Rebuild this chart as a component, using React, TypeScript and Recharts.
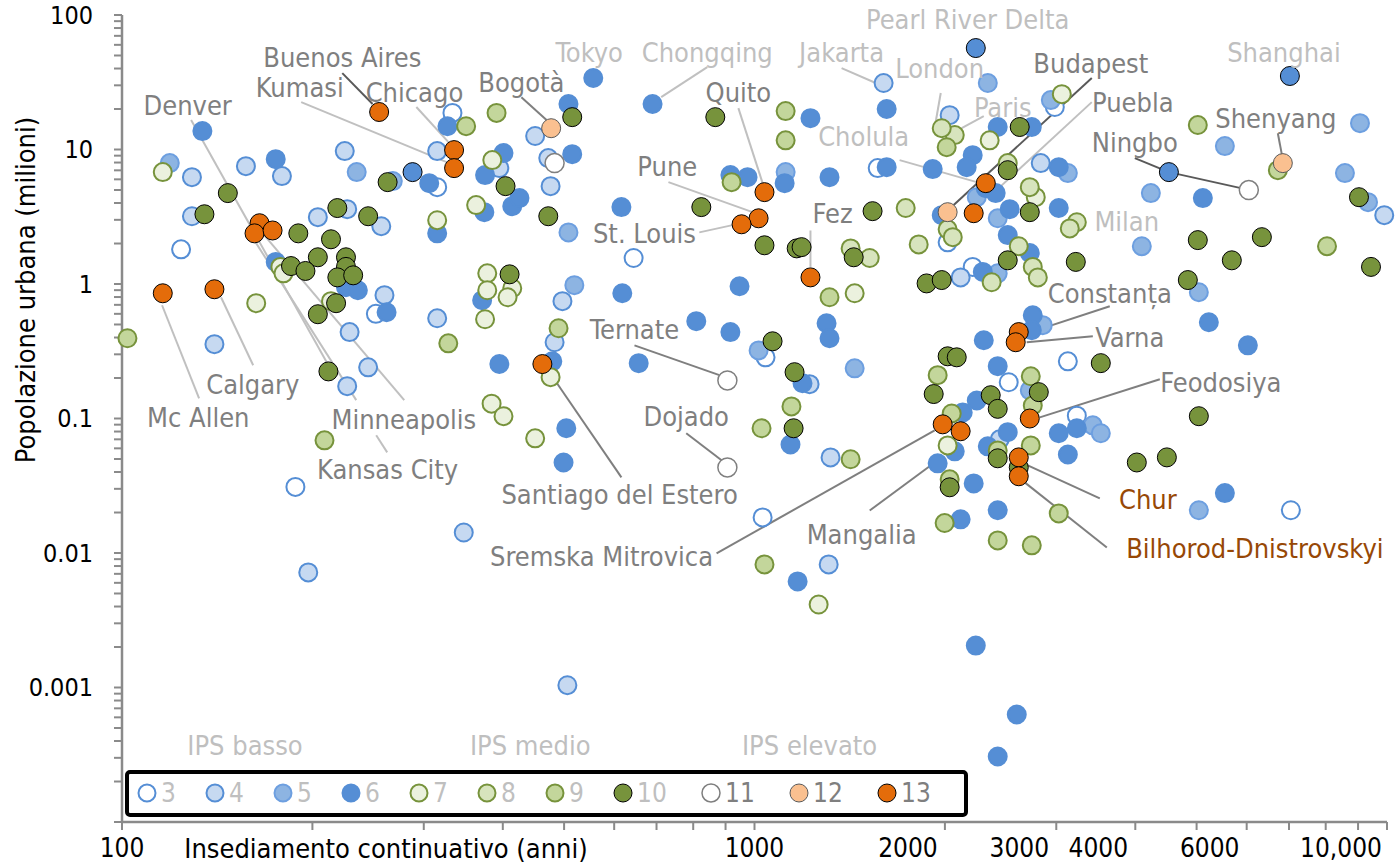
import React from "react";
import { ScatterChart, Scatter, XAxis, YAxis, ReferenceLine, Legend, Label } from "recharts";

document.body.style.margin = "0";

// [years of continuous settlement, urban population in millions], one list per class
const ips3 = [[124,1.81],[333,18.7],[315,5.25],[644,1.56],[252,0.6],[188,0.031],[1041,0.285],[1030,0.0184],[1566,7.27],[2020,2.04],[2984,20.7],[2213,1.34],[3129,0.266],[2523,0.186],[3233,0.105],[7047,0.0208]];
const ips4 = [[129,6.23],[157,7.52],[179,6.34],[225,9.73],[129,3.19],[204,3.14],[227,3.6],[257,2.69],[260,0.826],[140,0.357],[229,0.439],[315,0.556],[245,0.24],[227,0.174],[347,0.0142],[197,0.00717],[315,9.73],[395,7.27],[472,8.63],[450,12.6],[476,5.34],[497,0.745],[483,0.369],[506,0.00104],[1222,0.18],[1319,0.0514],[1310,0.00823],[1600,31.2],[2035,18],[2835,7.92],[2118,1.12],[2442,0.07],[9900,3.25]];
const ips5 = [[119,7.92],[235,6.79],[268,5.82],[508,2.42],[519,0.98],[1015,0.321],[1120,6.79],[1440,0.236],[2338,31.2],[2941,23.3],[3129,6.68],[2246,4.42],[2424,3.08],[2424,1.2],[2856,0.494],[2724,0.162],[3427,0.089],[3528,0.0777],[4233,4.74],[5542,10.6],[9063,15.7],[8580,6.68],[9333,4.06],[4096,1.91],[5041,0.869],[5041,0.0208]];
const ips6 = [[134,13.7],[175,8.48],[175,1.46],[226,0.947],[236,0.899],[262,0.617],[556,34],[690,21.8],[327,14.9],[508,21.8],[401,9.4],[515,9.23],[306,5.62],[375,6.45],[414,3.79],[425,4.35],[374,3.42],[616,3.73],[315,2.38],[618,0.853],[947,0.963],[1116,5.62],[916,6.45],[975,6.23],[1226,17.1],[1618,20],[1314,6.23],[1618,7.39],[1913,7.15],[2213,9.08],[2165,7.39],[3027,7.39],[2321,5.16],[2406,4.74],[2532,3.6],[3027,3.67],[1977,3.25],[2514,2.31],[2724,1.7],[2296,1.23],[5115,4.35],[2424,14.7],[2744,14.7],[395,0.254],[479,0.266],[809,0.529],[916,0.439],[656,0.258],[504,0.0846],[499,0.0471],[1191,0.183],[1140,0.0641],[1300,0.511],[1314,0.395],[1170,0.00615],[2238,0.00205],[2598,0.00063],[2424,0.000307],[2754,0.586],[2744,0.454],[2304,0.382],[5228,0.52],[6026,0.35],[2424,0.245],[2246,0.136],[2134,0.111],[3027,0.0777],[3233,0.0846],[2514,0.0791],[2338,0.0621],[2073,0.057],[1948,0.0464],[3129,0.054],[2221,0.0329],[2424,0.0208],[2118,0.0178],[5542,0.0279],[371,0.757]];
const ips6Marked = [[288,6.79],[2238,56.8],[7022,35.2],[4520,6.79]];
const ips7 = [[116,6.79],[178,1.34],[180,1.2],[163,0.72],[214,0.745],[385,8.34],[363,3.86],[315,2.98],[378,1.2],[378,0.899],[414,0.93],[407,0.797],[375,0.547],[384,0.129],[401,0.104],[450,0.0712],[476,0.203],[1440,0.853],[1263,0.00414],[2354,11.7],[2784,4.42],[3061,25.8],[2020,0.0631]];
const ips8 = [[2073,12.8],[1977,14.4],[2514,7.92],[2724,5.25],[1734,3.67],[2020,2.55],[2058,2.23],[3233,2.88],[3151,2.59],[1818,1.97],[1419,1.84],[1521,1.56],[2617,1.91],[2754,1.34],[2805,1.12],[2371,1.03]];
const ips9 = [[350,14.9],[391,18.7],[102,0.395],[328,0.362],[209,0.0688],[490,0.469],[1120,19.3],[1120,11.7],[920,5.72],[1144,0.123],[1026,0.0846],[1419,0.0498],[1037,0.00823],[1314,0.797],[2013,10.4],[5022,15.2],[6721,7.02],[8038,1.91],[1948,0.21],[2734,0.206],[2754,0.125],[2050,0.109],[2424,0.0579],[2734,0.0631],[2035,0.0353],[3027,0.0197],[1998,0.0167],[2424,0.0124],[2744,0.0114]];
const ips10 = [[147,4.74],[135,3.3],[219,3.67],[245,3.19],[190,2.38],[214,2.15],[204,1.58],[226,1.58],[185,1.36],[195,1.25],[226,1.34],[219,1.12],[232,1.16],[263,5.72],[218,0.72],[204,0.596],[212,0.224],[515,17.4],[404,5.34],[472,3.19],[410,1.18],[867,17.4],[824,3.73],[1037,1.94],[1166,1.84],[1068,0.375],[1157,0.221],[1153,0.0846],[2626,14.7],[2514,7.02],[2724,3.42],[2514,1.5],[3221,1.46],[1537,3.48],[1187,1.88],[1435,1.58],[1871,1.01],[1977,1.07],[9030,4.42],[5022,2.12],[6341,2.23],[5684,1.5],[9434,1.34],[4843,1.07],[3528,0.258],[2020,0.29],[2088,0.285],[1920,0.152],[2815,0.157],[2363,0.149],[2424,0.118],[5041,0.104],[2424,0.0506],[2617,0.0433],[2035,0.0308],[4022,0.0471],[4487,0.0514]];
const ips11 = [[483,7.92],[906,0.192],[906,0.0433],[6047,4.99]];
const ips12 = [[477,14.4],[2020,3.42],[6844,7.92]];
const ips13 = [[255,19],[335,9.9],[335,7.27],[165,2.83],[162,2.38],[173,2.5],[116,0.853],[140,0.914],[462,0.254],[1037,4.82],[1015,3.08],[954,2.78],[1226,1.12],[2321,5.62],[2221,3.36],[2617,0.439],[2588,0.369],[2724,0.1],[1984,0.0905],[2118,0.0804],[2617,0.0514],[2617,0.0372]];

const xLabelTicks = [100, 1000, 2000, 3000, 4000, 6000, 10000];
const xLabels = ["100", "1000", "2000", "3000", "4000", "6000", "10,000"];
const yLabelTicks = [100, 10, 1, 0.1, 0.01, 0.001];
const yLabels = ["100", "10", "1", "0.1", "0.01", "0.001"];

const cityLabels = [
  { name: "Pearl River Delta", x: 2173, y: 91.8, tone: "light" },
  { name: "Tokyo", x: 548, y: 52.2, tone: "light" },
  { name: "Chongqing", x: 842, y: 52.2, tone: "light" },
  { name: "Jakarta", x: 1373, y: 52.2, tone: "light" },
  { name: "London", x: 1962, y: 40.3, tone: "light" },
  { name: "Paris", x: 2469, y: 20.7, tone: "light" },
  { name: "Cholula", x: 1488, y: 12.4, tone: "light" },
  { name: "Shanghai", x: 6871, y: 53, tone: "light" },
  { name: "Milan", x: 3878, y: 2.93, tone: "light" },
  { name: "Budapest", x: 3402, y: 43.9, tone: "mid" },
  { name: "Puebla", x: 3964, y: 22.5, tone: "mid" },
  { name: "Ningbo", x: 3993, y: 11.2, tone: "mid" },
  { name: "Shenyang", x: 6673, y: 17.1, tone: "mid" },
  { name: "Fez", x: 1329, y: 3.36, tone: "mid" },
  { name: "Constanța", x: 3645, y: 0.853, tone: "mid" },
  { name: "Varna", x: 3921, y: 0.402, tone: "mid" },
  { name: "Feodosiya", x: 5461, y: 0.186, tone: "mid" },
  { name: "Chur", x: 4187, y: 0.0251, tone: "rust" },
  { name: "Bilhorod-Dnistrovskyi", x: 6181, y: 0.0108, tone: "rust" },
  { name: "Mangalia", x: 1477, y: 0.0138, tone: "mid" },
  { name: "Sremska Mitrovica", x: 573, y: 0.00943, tone: "mid" },
  { name: "Ternate", x: 646, y: 0.461, tone: "mid" },
  { name: "Dojado", x: 780, y: 0.104, tone: "mid" },
  { name: "Santiago del Estero", x: 612, y: 0.0273, tone: "mid" },
  { name: "Mc Allen", x: 132, y: 0.102, tone: "mid" },
  { name: "Calgary", x: 161, y: 0.18, tone: "mid" },
  { name: "Minneapolis", x: 279, y: 0.0986, tone: "mid" },
  { name: "Kansas City", x: 263, y: 0.0419, tone: "mid" },
  { name: "Denver", x: 127, y: 21.4, tone: "mid" },
  { name: "Buenos Aires", x: 223, y: 48.7, tone: "mid" },
  { name: "Kumasi", x: 191, y: 29.1, tone: "mid" },
  { name: "Chicago", x: 290, y: 26.7, tone: "mid" },
  { name: "Bogotà", x: 428, y: 31.7, tone: "mid" },
  { name: "Quito", x: 943, y: 26.7, tone: "mid" },
  { name: "Pune", x: 728, y: 7.52, tone: "mid" },
  { name: "St. Louis", x: 670, y: 2.38, tone: "mid" },
  { name: "IPS basso", x: 156.5, y: 0.00037, tone: "light" },
  { name: "IPS medio", x: 442, y: 0.00037, tone: "light" },
  { name: "IPS elevato", x: 1222, y: 0.00037, tone: "light" },
];

const leaderLines = [
  { x1: 223, y1: 37, x2: 249, y2: 21.8, tone: "dark" },
  { x1: 192, y1: 22.5, x2: 326, y2: 8.06, tone: "light" },
  { x1: 292, y1: 20.7, x2: 329, y2: 11.2, tone: "light" },
  { x1: 128.6, y1: 16.6, x2: 212, y2: 0.249, tone: "light" },
  { x1: 115.7, y1: 0.695, x2: 132.4, y2: 0.141, tone: "light" },
  { x1: 143.4, y1: 0.797, x2: 161.2, y2: 0.249, tone: "light" },
  { x1: 279.4, y1: 0.137, x2: 167.8, y2: 2.31, tone: "light" },
  { x1: 262.6, y1: 0.056, x2: 252.3, y2: 0.075, tone: "light" },
  { x1: 234.6, y1: 0.137, x2: 161.8, y2: 2.12, tone: "light" },
  { x1: 428, y1: 24.5, x2: 469, y2: 16.6, tone: "mid" },
  { x1: 842, y1: 41, x2: 712, y2: 24.5, tone: "light" },
  { x1: 1373, y1: 40.3, x2: 1555, y2: 31.2, tone: "light" },
  { x1: 1970, y1: 26.3, x2: 1934, y2: 16, tone: "light" },
  { x1: 2304, y1: 17.7, x2: 2126, y2: 14.4, tone: "light" },
  { x1: 1696, y1: 8.34, x2: 2246, y2: 5.72, tone: "light" },
  { x1: 3414, y1: 34, x2: 2065, y2: 3.86, tone: "dark" },
  { x1: 3414, y1: 22.5, x2: 2442, y2: 5.25, tone: "light" },
  { x1: 3993, y1: 8.63, x2: 4520, y2: 6.79, tone: "dark" },
  { x1: 4520, y1: 6.79, x2: 5875, y2: 5.16, tone: "dark" },
  { x1: 6721, y1: 13.2, x2: 6822, y2: 9.08, tone: "mid" },
  { x1: 1226, y1: 2.5, x2: 1226, y2: 1.34, tone: "light" },
  { x1: 943, y1: 20.3, x2: 1030, y2: 5.62, tone: "light" },
  { x1: 731, y1: 5.72, x2: 993, y2: 3.42, tone: "light" },
  { x1: 818, y1: 2.42, x2: 923, y2: 2.74, tone: "light" },
  { x1: 3645, y1: 0.684, x2: 2704, y2: 0.431, tone: "mid" },
  { x1: 3427, y1: 0.409, x2: 2694, y2: 0.369, tone: "mid" },
  { x1: 4374, y1: 0.196, x2: 2825, y2: 0.102, tone: "mid" },
  { x1: 3515, y1: 0.0255, x2: 2704, y2: 0.0448, tone: "mid" },
  { x1: 3606, y1: 0.011, x2: 2674, y2: 0.0335, tone: "mid" },
  { x1: 1521, y1: 0.0207, x2: 1927, y2: 0.0471, tone: "mid" },
  { x1: 871, y1: 0.00993, x2: 1927, y2: 0.0817, tone: "mid" },
  { x1: 646, y1: 0.35, x2: 880, y2: 0.21, tone: "mid" },
  { x1: 780, y1: 0.0777, x2: 887, y2: 0.0489, tone: "mid" },
  { x1: 616, y1: 0.0365, x2: 486, y2: 0.186, tone: "mid" },
];

const FONT = "'DejaVu Sans Condensed', 'DejaVu Sans', sans-serif";
const AXIS = "#8a8a8a";
const textTone: Record<string, string> = { light: "#bfbfbf", mid: "#7f7f7f", rust: "#974806" };
const lineTone: Record<string, string> = { light: "#c0c0c0", mid: "#7f7f7f", dark: "#595959" };

const BLUE = "#558ed5";
const GREEN = "#77933c";

const classes = [
  { key: "3", data: ips3, fill: "#ffffff", stroke: BLUE, sw: 2, legend: true },
  { key: "4", data: ips4, fill: "#c6d9f1", stroke: BLUE, sw: 2, legend: true },
  { key: "5", data: ips5, fill: "#8db4e2", stroke: "#6d9fe0", sw: 2, legend: true },
  { key: "6", data: ips6, fill: BLUE, stroke: BLUE, sw: 2, legend: true },
  { key: "6m", data: ips6Marked, fill: BLUE, stroke: "#000000", sw: 1, legend: false },
  { key: "7", data: ips7, fill: "#ebf1de", stroke: GREEN, sw: 2, legend: true },
  { key: "8", data: ips8, fill: "#d7e4bd", stroke: GREEN, sw: 2, legend: true },
  { key: "9", data: ips9, fill: "#c3d69b", stroke: GREEN, sw: 2, legend: true },
  { key: "10", data: ips10, fill: GREEN, stroke: "#000000", sw: 1, legend: true },
  { key: "11", data: ips11, fill: "#ffffff", stroke: "#7f7f7f", sw: 1.5, legend: true },
  { key: "12", data: ips12, fill: "#fac090", stroke: "#595959", sw: 1, legend: true },
  { key: "13", data: ips13, fill: "#e46c0a", stroke: "#000000", sw: 1, legend: true },
];

const xTicks: number[] = [];
for (let e = 2; e <= 3; e++) for (let k = 1; k <= 9; k++) xTicks.push(k * Math.pow(10, e));
xTicks.push(10000);
const yTicks: number[] = [];
for (let e = -4; e <= 1; e++) for (let k = 1; k <= 9; k++) yTicks.push(+(k * Math.pow(10, e)).toPrecision(6));
yTicks.push(100);

const toPts = (arr: number[][]) => arr.map(([x, y]) => ({ x, y }));

const dotShape = (fill: string, stroke: string, sw: number) => (props: any) => {
  if (props.cx == null || props.cy == null) return <g />;
  const r = sw >= 2 ? 9 : 9.5;
  return <circle cx={props.cx} cy={props.cy} r={r} fill={fill} stroke={stroke} strokeWidth={sw} />;
};

const textShape = (props: any) => {
  const d = props.payload || props;
  return (
    <text x={props.cx} y={props.cy} textAnchor="middle" dominantBaseline="central"
      fill={textTone[d.tone]} fontSize={27} fontFamily={FONT}>
      {d.name}
    </text>
  );
};

const renderXTick = (props: any) => {
  const v = props.payload.value;
  const i = xLabelTicks.findIndex((t) => Math.abs(t - v) < 1e-6);
  if (i < 0) return <g />;
  const shift = v > 1000 ? (v >= 10000 ? -46 : -37) : 0;
  return (
    <text x={props.x + shift} y={props.y + 16} textAnchor="middle" dominantBaseline="central"
      fill="#000" fontSize={26} fontFamily={FONT}>
      {xLabels[i]}
    </text>
  );
};

const renderYTick = (props: any) => {
  const v = props.payload.value;
  const i = yLabelTicks.findIndex((t) => Math.abs(Math.log10(t) - Math.log10(v)) < 1e-6);
  if (i < 0) return <g />;
  return (
    <text x={props.x} y={props.y} textAnchor="end" dominantBaseline="central"
      fill="#000" fontSize={25} fontFamily={FONT}>
      {yLabels[i]}
    </text>
  );
};

const LegendBox = () => {
  let cx = 27;
  const items = classes.filter((c) => c.legend).map((c) => {
    const item = { c, cx };
    cx += 48 + 20 * c.key.length;
    return item;
  });
  return (
    <svg width={855} height={57}>
      <rect x={7} y={7} width={839} height={43} rx={3} fill="#fff" stroke="#000" strokeWidth={4} />
      {items.map(({ c, cx }) => (
        <g key={c.key}>
          <circle cx={cx} cy={28} r={c.sw >= 2 ? 8.5 : 9} fill={c.fill} stroke={c.stroke} strokeWidth={c.sw} />
          <text x={cx + 14} y={28} dominantBaseline="central" fontSize={26} fontFamily={FONT}
            fill={Number(c.key) >= 11 ? "#7f7f7f" : "#bfbfbf"}>
            {c.key}
          </text>
        </g>
      ))}
    </svg>
  );
};

export default function App() {
  return (
    <ScatterChart width={1396} height={863} margin={{ top: 15, right: 9, bottom: 0, left: 0 }}
      style={{ background: "#fff" }}>
      <XAxis type="number" dataKey="x" scale="log" domain={[100, 10000]} ticks={xTicks} interval={0}
        height={41} tickSize={8} tick={renderXTick}
        tickLine={{ stroke: AXIS, strokeWidth: 2 }} axisLine={{ stroke: AXIS, strokeWidth: 2.5 }}>
        <Label content={(p: any) => (
          <text x={(p.viewBox?.x ?? 122) + 264} y={(p.viewBox?.y ?? 822) + 26} textAnchor="middle"
            dominantBaseline="central" fontSize={27} fontFamily={FONT} fill="#000">
            Insediamento continuativo (anni)
          </text>
        )} />
      </XAxis>
      <YAxis type="number" dataKey="y" scale="log" domain={[0.0001, 100]} ticks={yTicks} interval={0}
        width={122} tickSize={8} tickMargin={21} tick={renderYTick}
        tickLine={{ stroke: AXIS, strokeWidth: 2 }} axisLine={{ stroke: AXIS, strokeWidth: 2.5 }}>
        <Label content={() => (
          <text x={25} y={290} transform="rotate(-90 25 290)" textAnchor="middle"
            dominantBaseline="central" fontSize={27} fontFamily={FONT} fill="#000">
            Popolazione urbana (milioni)
          </text>
        )} />
      </YAxis>
      {leaderLines.map((l, i) => (
        <ReferenceLine key={"l" + i} segment={[{ x: l.x1, y: l.y1 }, { x: l.x2, y: l.y2 }]}
          stroke={lineTone[l.tone]} strokeWidth={2} />
      ))}
      {classes.map((c) => (
        <Scatter key={c.key} name={c.key} data={toPts(c.data)} shape={dotShape(c.fill, c.stroke, c.sw)}
          isAnimationActive={false} />
      ))}
      <Scatter name="labels" data={cityLabels} shape={textShape} isAnimationActive={false} legendType="none" />
      <Legend layout="horizontal" verticalAlign="middle" align="center"
        wrapperStyle={{ left: 120, top: 765, width: 855, height: 57 }} content={() => <LegendBox />} />
    </ScatterChart>
  );
}
